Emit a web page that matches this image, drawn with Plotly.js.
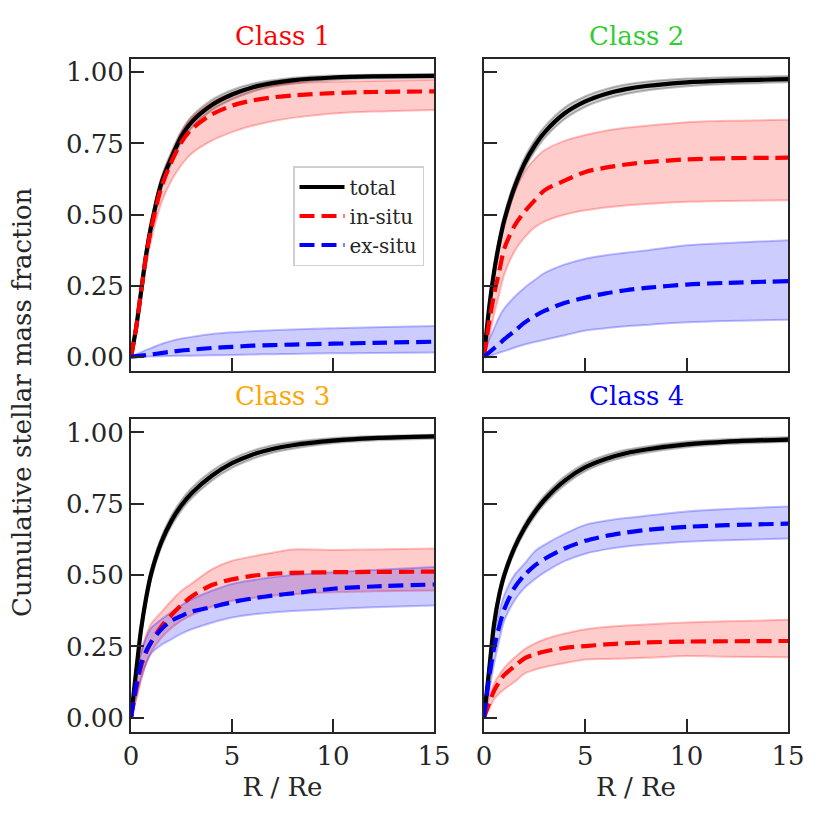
<!DOCTYPE html>
<html>
<head>
<meta charset="utf-8">
<script src="https://cdn.plot.ly/plotly-3.0.1.min.js"></script>
<style>
  html, body { margin: 0; padding: 0; background: #fff; }
  #chart { width: 830px; height: 830px; }
</style>
</head>
<body>
<div id="chart"></div>
<script>
// radius in units of Re
const R = [0, 0.25, 0.5, 0.75, 1, 1.5, 2, 2.5, 3, 4, 5, 6, 7, 8, 10, 12, 15];

// Class 1
const c1Tot   = [0, 0.10, 0.23, 0.36, 0.46, 0.61, 0.70, 0.775, 0.825, 0.885, 0.922, 0.947, 0.962, 0.972, 0.982, 0.986, 0.988];
const c1TotLo = [0, 0.085, 0.21, 0.34, 0.44, 0.59, 0.68, 0.755, 0.805, 0.867, 0.905, 0.932, 0.950, 0.961, 0.973, 0.978, 0.981];
const c1TotHi = [0, 0.115, 0.25, 0.38, 0.48, 0.63, 0.72, 0.795, 0.845, 0.903, 0.938, 0.960, 0.972, 0.981, 0.989, 0.992, 0.994];
const c1In    = [0, 0.10, 0.23, 0.355, 0.45, 0.595, 0.685, 0.755, 0.80, 0.852, 0.883, 0.901, 0.912, 0.919, 0.927, 0.931, 0.933];
const c1InLo  = [0, 0.09, 0.20, 0.32, 0.41, 0.54, 0.62, 0.675, 0.715, 0.76, 0.79, 0.812, 0.828, 0.84, 0.855, 0.862, 0.868];
const c1InHi  = [0, 0.11, 0.25, 0.38, 0.48, 0.625, 0.715, 0.79, 0.84, 0.895, 0.928, 0.945, 0.955, 0.961, 0.967, 0.970, 0.974];
const c1Ex    = [0, 0.002, 0.004, 0.006, 0.008, 0.013, 0.018, 0.022, 0.025, 0.031, 0.035, 0.039, 0.041, 0.043, 0.046, 0.049, 0.053];
const c1ExLo  = [0, 0, 0, 0.001, 0.001, 0.002, 0.003, 0.004, 0.004, 0.005, 0.006, 0.008, 0.009, 0.010, 0.012, 0.013, 0.015];
const c1ExHi  = [0, 0.008, 0.016, 0.024, 0.031, 0.045, 0.056, 0.064, 0.07, 0.08, 0.086, 0.090, 0.093, 0.096, 0.100, 0.104, 0.108];

// Class 2
const c2Tot   = [0, 0.17, 0.30, 0.40, 0.48, 0.595, 0.68, 0.742, 0.79, 0.857, 0.898, 0.924, 0.941, 0.952, 0.965, 0.971, 0.976];
const c2TotLo = [0, 0.155, 0.282, 0.38, 0.46, 0.575, 0.66, 0.722, 0.77, 0.837, 0.879, 0.906, 0.924, 0.936, 0.951, 0.959, 0.965];
const c2TotHi = [0, 0.185, 0.318, 0.42, 0.50, 0.615, 0.70, 0.762, 0.81, 0.877, 0.916, 0.941, 0.957, 0.967, 0.978, 0.983, 0.987];
const c2In    = [0, 0.12, 0.22, 0.30, 0.38, 0.46, 0.51, 0.55, 0.586, 0.62, 0.65, 0.665, 0.676, 0.684, 0.694, 0.698, 0.70];
const c2InLo  = [0, 0.07, 0.15, 0.22, 0.29, 0.37, 0.42, 0.455, 0.476, 0.50, 0.515, 0.525, 0.532, 0.537, 0.545, 0.548, 0.55];
const c2InHi  = [0, 0.16, 0.29, 0.39, 0.47, 0.58, 0.65, 0.695, 0.727, 0.76, 0.78, 0.795, 0.805, 0.812, 0.825, 0.83, 0.833];
const c2Ex    = [0, 0.015, 0.03, 0.045, 0.062, 0.09, 0.12, 0.143, 0.162, 0.19, 0.208, 0.223, 0.234, 0.242, 0.254, 0.26, 0.266];
const c2ExLo  = [0, 0.003, 0.008, 0.014, 0.02, 0.032, 0.043, 0.052, 0.06, 0.076, 0.092, 0.1, 0.107, 0.112, 0.121, 0.126, 0.13];
const c2ExHi  = [0, 0.06, 0.10, 0.14, 0.17, 0.21, 0.243, 0.27, 0.295, 0.325, 0.345, 0.357, 0.366, 0.374, 0.392, 0.40, 0.41];

// Class 3
const c3Tot   = [0, 0.16, 0.31, 0.42, 0.505, 0.615, 0.69, 0.745, 0.787, 0.848, 0.892, 0.922, 0.942, 0.955, 0.971, 0.98, 0.986];
const c3TotLo = [0, 0.145, 0.293, 0.402, 0.488, 0.597, 0.672, 0.727, 0.769, 0.831, 0.876, 0.907, 0.929, 0.943, 0.962, 0.972, 0.978];
const c3TotHi = [0, 0.175, 0.327, 0.438, 0.522, 0.633, 0.708, 0.763, 0.805, 0.865, 0.907, 0.936, 0.955, 0.966, 0.980, 0.987, 0.992];
const c3In    = [0, 0.10, 0.18, 0.23, 0.265, 0.32, 0.36, 0.395, 0.425, 0.465, 0.485, 0.497, 0.504, 0.508, 0.51, 0.511, 0.512];
const c3InLo  = [0, 0.06, 0.13, 0.19, 0.23, 0.28, 0.315, 0.34, 0.36, 0.39, 0.41, 0.42, 0.428, 0.433, 0.44, 0.443, 0.446];
const c3InHi  = [0, 0.14, 0.23, 0.29, 0.33, 0.37, 0.41, 0.445, 0.47, 0.52, 0.55, 0.565, 0.578, 0.59, 0.588, 0.59, 0.593];
const c3Ex    = [0, 0.11, 0.19, 0.233, 0.265, 0.31, 0.34, 0.357, 0.372, 0.388, 0.405, 0.418, 0.428, 0.436, 0.452, 0.46, 0.467];
const c3ExLo  = [0, 0.07, 0.14, 0.19, 0.225, 0.255, 0.275, 0.295, 0.31, 0.333, 0.351, 0.362, 0.369, 0.374, 0.381, 0.387, 0.393];
const c3ExHi  = [0, 0.15, 0.23, 0.28, 0.315, 0.345, 0.37, 0.395, 0.415, 0.445, 0.469, 0.482, 0.492, 0.5, 0.51, 0.518, 0.528];

// Class 4
const c4Tot   = [0, 0.165, 0.33, 0.43, 0.50, 0.595, 0.665, 0.72, 0.765, 0.832, 0.878, 0.907, 0.927, 0.94, 0.958, 0.968, 0.975];
const c4TotLo = [0, 0.15, 0.315, 0.415, 0.485, 0.58, 0.65, 0.705, 0.75, 0.817, 0.864, 0.894, 0.915, 0.929, 0.948, 0.959, 0.966];
const c4TotHi = [0, 0.18, 0.345, 0.445, 0.515, 0.61, 0.68, 0.735, 0.78, 0.847, 0.892, 0.92, 0.939, 0.951, 0.968, 0.977, 0.984];
const c4In    = [0, 0.05, 0.095, 0.125, 0.15, 0.18, 0.208, 0.222, 0.232, 0.245, 0.251, 0.257, 0.261, 0.264, 0.267, 0.268, 0.269];
const c4InLo  = [0, 0.03, 0.065, 0.085, 0.1, 0.125, 0.155, 0.168, 0.178, 0.192, 0.204, 0.206, 0.208, 0.21, 0.216, 0.214, 0.212];
const c4InHi  = [0, 0.07, 0.12, 0.15, 0.175, 0.21, 0.24, 0.26, 0.275, 0.295, 0.31, 0.318, 0.323, 0.327, 0.334, 0.338, 0.343];
const c4Ex    = [0, 0.14, 0.245, 0.32, 0.38, 0.455, 0.50, 0.533, 0.557, 0.594, 0.62, 0.637, 0.649, 0.658, 0.669, 0.675, 0.68];
const c4ExLo  = [0, 0.09, 0.19, 0.27, 0.34, 0.41, 0.455, 0.485, 0.51, 0.55, 0.575, 0.59, 0.60, 0.607, 0.617, 0.622, 0.628];
const c4ExHi  = [0, 0.19, 0.30, 0.37, 0.43, 0.50, 0.54, 0.583, 0.607, 0.645, 0.676, 0.69, 0.70, 0.708, 0.723, 0.732, 0.74];

const classNames  = ['Class 1', 'Class 2', 'Class 3', 'Class 4'];
const classColors = ['#ff0000', '#32cd32', '#ffa500', '#0000ff'];
const seriesNames = ['total', 'in-situ', 'ex-situ'];

const panels = [
    [[c1Tot, c1TotLo, c1TotHi], [c1In, c1InLo, c1InHi], [c1Ex, c1ExLo, c1ExHi]],
    [[c2Tot, c2TotLo, c2TotHi], [c2In, c2InLo, c2InHi], [c2Ex, c2ExLo, c2ExHi]],
    [[c3Tot, c3TotLo, c3TotHi], [c3In, c3InLo, c3InHi], [c3Ex, c3ExLo, c3ExHi]],
    [[c4Tot, c4TotLo, c4TotHi], [c4In, c4InLo, c4InHi], [c4Ex, c4ExLo, c4ExHi]],
];

const lineCol = ['#000000', '#ff0000', '#0000ff'];
const bandCol = ['rgba(0,0,0,0.2)', 'rgba(255,0,0,0.2)', 'rgba(0,0,255,0.2)'];
const edgeCol = ['rgba(0,0,0,0.25)', 'rgba(255,0,0,0.25)', 'rgba(0,0,255,0.25)'];

const FONT = 'DejaVu Serif';
const INK = '#262626';
const SMOOTH = 0.8;

const data = [];
panels.forEach((series, p) => {
    const xa = p === 0 ? 'x' : 'x' + (p + 1);
    const ya = p === 0 ? 'y' : 'y' + (p + 1);
    // shaded bands first
    series.forEach((s, k) => {
        data.push({
            x: R, y: s[1], xaxis: xa, yaxis: ya, type: 'scatter', mode: 'lines',
            line: {color: edgeCol[k], width: 2, shape: 'spline', smoothing: SMOOTH},
            showlegend: false, hoverinfo: 'skip'
        });
        data.push({
            x: R, y: s[2], xaxis: xa, yaxis: ya, type: 'scatter', mode: 'lines',
            line: {color: edgeCol[k], width: 2, shape: 'spline', smoothing: SMOOTH},
            fill: 'tonexty', fillcolor: bandCol[k],
            showlegend: false, hoverinfo: 'skip'
        });
    });
    // median lines on top
    series.forEach((s, k) => {
        data.push({
            x: R, y: s[0], xaxis: xa, yaxis: ya, type: 'scatter', mode: 'lines',
            name: seriesNames[k],
            line: {color: lineCol[k], width: 4.2, dash: k === 0 ? 'solid' : '15px,7px',
                   shape: 'spline', smoothing: SMOOTH},
            showlegend: p === 0
        });
    });
});

const xDom = [[131 / 830, 434 / 830], [484 / 830, 788 / 830]];
const yDom = [[1 - 371 / 830, 1 - 59 / 830], [1 - 732 / 830, 1 - 419 / 830]];

function axisBase() {
    return {
        showline: true, mirror: true, linecolor: INK, linewidth: 2,
        ticks: 'inside', ticklen: 13, tickwidth: 2, tickcolor: INK,
        showgrid: false, zeroline: false,
        tickfont: {family: FONT, size: 26, color: INK}
    };
}

const layout = {
    width: 830, height: 830,
    margin: {l: 0, r: 0, t: 0, b: 0},
    paper_bgcolor: '#ffffff', plot_bgcolor: '#ffffff',
    font: {family: FONT, color: INK},
    legend: {
        x: 424 / 830, xanchor: 'right', y: 1 - 166 / 830, yanchor: 'top',
        traceorder: 'normal', itemwidth: 45,
        bgcolor: '#ffffff', bordercolor: '#d0d0d0', borderwidth: 1.5,
        font: {family: FONT, size: 20, color: INK}
    },
    annotations: [],
    showlegend: true
};

for (let p = 0; p < 4; p++) {
    const col = p % 2, row = Math.floor(p / 2);
    const sfx = p === 0 ? '' : String(p + 1);
    const xa = axisBase();
    xa.domain = xDom[col];
    xa.range = [0, 15];
    xa.tickvals = [0, 5, 10, 15];
    xa.anchor = 'y' + sfx;
    xa.showticklabels = row === 1;
    if (row === 1) {
        xa.title = {text: 'R / Re', font: {family: FONT, size: 26, color: INK}, standoff: 8};
    }
    const ya = axisBase();
    ya.domain = yDom[row];
    ya.range = [-0.05, 1.047];
    ya.tickvals = [0, 0.25, 0.5, 0.75, 1];
    ya.tickformat = '.2f';
    ya.anchor = 'x' + sfx;
    ya.showticklabels = col === 0;
    layout['xaxis' + sfx] = xa;
    layout['yaxis' + sfx] = ya;

    layout.annotations.push({
        text: classNames[p], xref: 'paper', yref: 'paper',
        x: (xDom[col][0] + xDom[col][1]) / 2, y: yDom[row][1],
        xanchor: 'center', yanchor: 'bottom', yshift: 6, showarrow: false,
        font: {family: FONT, size: 26, color: classColors[p]}
    });
}

layout.annotations.push({
    text: 'Cumulative stellar mass fraction', xref: 'paper', yref: 'paper',
    x: 22 / 830, y: 1 - 402 / 830, xanchor: 'center', yanchor: 'middle',
    textangle: -90, showarrow: false,
    font: {family: FONT, size: 26, color: INK}
});

Plotly.newPlot('chart', data, layout, {displayModeBar: false, staticPlot: true});
</script>
</body>
</html>
